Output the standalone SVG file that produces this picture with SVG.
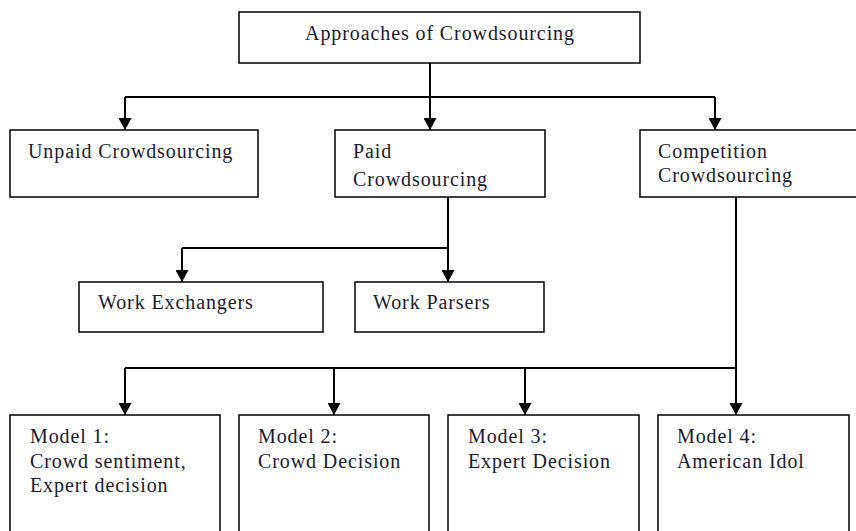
<svg xmlns="http://www.w3.org/2000/svg" width="856" height="531" viewBox="0 0 856 531">
<style>
.box{fill:#fff;stroke:#000;stroke-width:1.5}
.t{font-family:'Liberation Serif','DejaVu Serif',serif;font-size:20px;letter-spacing:0.9px;fill:#1a1a2e}
.c{fill:none;stroke:#000;stroke-width:2}
</style>
<defs>
<marker id="ah" markerWidth="12" markerHeight="13" refX="12" refY="6.5" orient="auto" markerUnits="userSpaceOnUse">
<path d="M0,0 L12,6.5 L0,13 Z" fill="#000"/>
</marker>
</defs>
<rect width="856" height="531" fill="#fff"/>
<g id="connectors">
<path class="c" d="M430,63 V130" marker-end="url(#ah)"/>
<path class="c" d="M125,97 H715"/>
<path class="c" d="M125,97 V130" marker-end="url(#ah)"/>
<path class="c" d="M715,97 V130" marker-end="url(#ah)"/>
<path class="c" d="M448,197 V282" marker-end="url(#ah)"/>
<path class="c" d="M182,248 H448"/>
<path class="c" d="M182,248 V282" marker-end="url(#ah)"/>
<path class="c" d="M736,197 V415" marker-end="url(#ah)"/>
<path class="c" d="M125,368 H736"/>
<path class="c" d="M125,368 V415" marker-end="url(#ah)"/>
<path class="c" d="M334,368 V415" marker-end="url(#ah)"/>
<path class="c" d="M525,368 V415" marker-end="url(#ah)"/>
</g>
<g id="root"><rect class="box" x="239" y="12" width="401" height="51"/><text class="t" x="440" y="40" text-anchor="middle">Approaches of Crowdsourcing</text></g>
<g id="unpaid"><rect class="box" x="10" y="130" width="248" height="67"/><text class="t" x="28" y="158">Unpaid Crowdsourcing</text></g>
<g id="paid"><rect class="box" x="335" y="130" width="210" height="67"/><text class="t" x="353" y="158">Paid</text><text class="t" x="353" y="186">Crowdsourcing</text></g>
<g id="competition"><rect class="box" x="640" y="130" width="220" height="67"/><text class="t" x="658" y="158">Competition</text><text class="t" x="658" y="182">Crowdsourcing</text></g>
<g id="exchangers"><rect class="box" x="79" y="282" width="244" height="50"/><text class="t" x="98" y="309">Work Exchangers</text></g>
<g id="parsers"><rect class="box" x="355" y="282" width="189" height="50"/><text class="t" x="373" y="309">Work Parsers</text></g>
<g id="model1"><rect class="box" x="10" y="415" width="210" height="130"/><text class="t" x="30" y="443">Model 1:</text><text class="t" x="30" y="468">Crowd sentiment,</text><text class="t" x="30" y="492">Expert decision</text></g>
<g id="model2"><rect class="box" x="239" y="415" width="190" height="130"/><text class="t" x="258" y="443">Model 2:</text><text class="t" x="258" y="468">Crowd Decision</text></g>
<g id="model3"><rect class="box" x="448" y="415" width="191" height="130"/><text class="t" x="468" y="443">Model 3:</text><text class="t" x="468" y="468">Expert Decision</text></g>
<g id="model4"><rect class="box" x="658" y="415" width="191" height="130"/><text class="t" x="677" y="443">Model 4:</text><text class="t" x="677" y="468">American Idol</text></g>
</svg>
